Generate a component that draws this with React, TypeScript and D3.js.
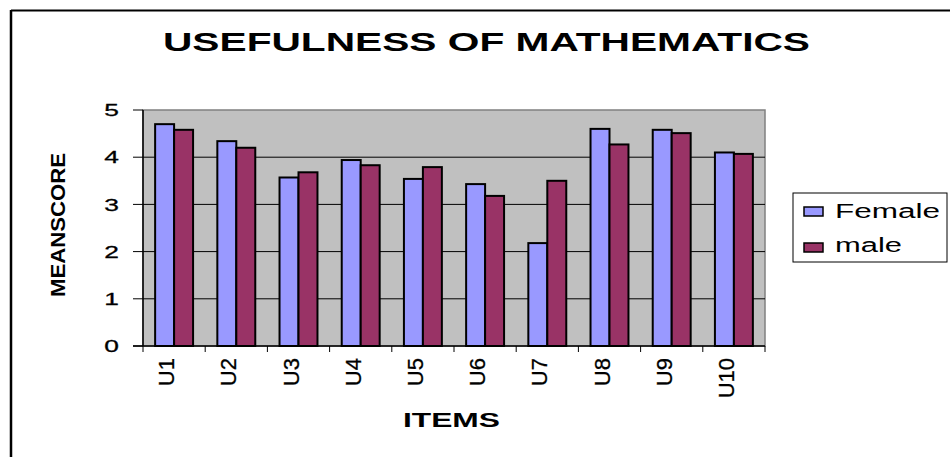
import React from "react";
import * as d3 from "d3";

// values
const items = ["U1", "U2", "U3", "U4", "U5", "U6", "U7", "U8", "U9", "U10"];
const female = [4.7, 4.34, 3.57, 3.94, 3.54, 3.43, 2.18, 4.6, 4.58, 4.1];
const male = [4.58, 4.2, 3.68, 3.83, 3.79, 3.18, 3.5, 4.27, 4.51, 4.07];
const yTicks = [0, 1, 2, 3, 4, 5];
const seriesNames = ["Female", "male"];
const seriesColors = ["#9999FF", "#993366"];

const W = 950;
const H = 457;
const plot = { left: 143, right: 765, top: 110, bottom: 346 };
const font = "'Liberation Sans', Arial, sans-serif";

const App = () => {
  const x = d3.scaleBand<string>()
    .domain(items)
    .range([plot.left, plot.right])
    .paddingInner(0.39)
    .paddingOuter(0.195);
  const step = x.step();
  const sub = d3.scaleBand<string>()
    .domain(seriesNames)
    .range([0, x.bandwidth()]);
  const y = d3.scaleLinear().domain([0, 5]).range([plot.bottom, plot.top]);

  const series = [female, male];

  return (
    <svg width={W} height={H} style={{ position: "fixed", left: 0, top: 0, background: "#fff" }}
      fontFamily={font}>
      {/* outer frame, only top and left show in the picture */}
      <line x1={11} y1={10.5} x2={W} y2={10.5} stroke="#000" strokeWidth={2} />
      <line x1={11} y1={10} x2={11} y2={H} stroke="#000" strokeWidth={2.5} />

      <text x={486.5} y={51} textAnchor="middle" fontSize={26} fontWeight="bold"
        textLength={647} lengthAdjust="spacingAndGlyphs">USEFULNESS OF MATHEMATICS</text>

      {/* plot area */}
      <rect x={plot.left} y={plot.top} width={plot.right - plot.left} height={plot.bottom - plot.top}
        fill="#C0C0C0" stroke="#808080" strokeWidth={1.5} />
      {yTicks.filter(t => t > 0 && t < 5).map(t => (
        <line key={t} x1={plot.left} x2={plot.right} y1={y(t)} y2={y(t)} stroke="#000" strokeWidth={1} />
      ))}

      {series.map((vals, si) => items.map((it, i) => (
        <rect key={it + si}
          x={(x(it) as number) + (sub(seriesNames[si]) as number)}
          y={y(vals[i])}
          width={sub.bandwidth()}
          height={y(0) - y(vals[i])}
          fill={seriesColors[si]} stroke="#000" strokeWidth={2} />
      )))}

      {/* y axis */}
      <line x1={plot.left} x2={plot.left} y1={plot.top} y2={plot.bottom} stroke="#000" strokeWidth={1.5} />
      {yTicks.map(t => (
        <g key={t}>
          <line x1={plot.left - 10} x2={plot.left} y1={y(t)} y2={y(t)} stroke="#000" strokeWidth={1} />
          <text transform={`translate(119,${y(t)}) scale(1.55,1)`} dy="0.36em" textAnchor="end"
            fontSize={17} stroke="#000" strokeWidth={0.3}>{t}</text>
        </g>
      ))}

      {/* x axis */}
      <line x1={plot.left - 10} x2={plot.right} y1={plot.bottom} y2={plot.bottom} stroke="#000" strokeWidth={1.5} />
      {d3.range(items.length + 1).map(i => (
        <line key={i} x1={plot.left + i * step} x2={plot.left + i * step} y1={plot.bottom}
          y2={plot.bottom + 6} stroke="#000" strokeWidth={1} />
      ))}
      {items.map(it => {
        const c = (x(it) as number) + x.bandwidth() / 2;
        return (
          <text key={it} transform={`translate(${c},358) rotate(-90)`} textAnchor="end"
            fontSize={22} stroke="#000" strokeWidth={0.3}>{it}</text>
        );
      })}

      <text x={451.5} y={427} textAnchor="middle" fontSize={20} fontWeight="bold"
        textLength={97} lengthAdjust="spacingAndGlyphs">ITEMS</text>
      <text transform="translate(65,225) rotate(-90)" textAnchor="middle" fontSize={21}
        fontWeight="bold" textLength={144} lengthAdjust="spacingAndGlyphs">MEANSCORE</text>

      {/* legend */}
      <rect x={793} y={193} width={154} height={69} fill="#fff" stroke="#000" strokeWidth={1} />
      {seriesNames.map((s, i) => (
        <g key={s}>
          <rect x={804} y={[207, 243][i]} width={19} height={9} fill={seriesColors[i]}
            stroke="#000" strokeWidth={1.5} />
          <text x={835} y={[218, 252][i]} fontSize={20}
            textLength={[105, 67][i]} lengthAdjust="spacingAndGlyphs">{s}</text>
        </g>
      ))}
    </svg>
  );
};

export default App;
